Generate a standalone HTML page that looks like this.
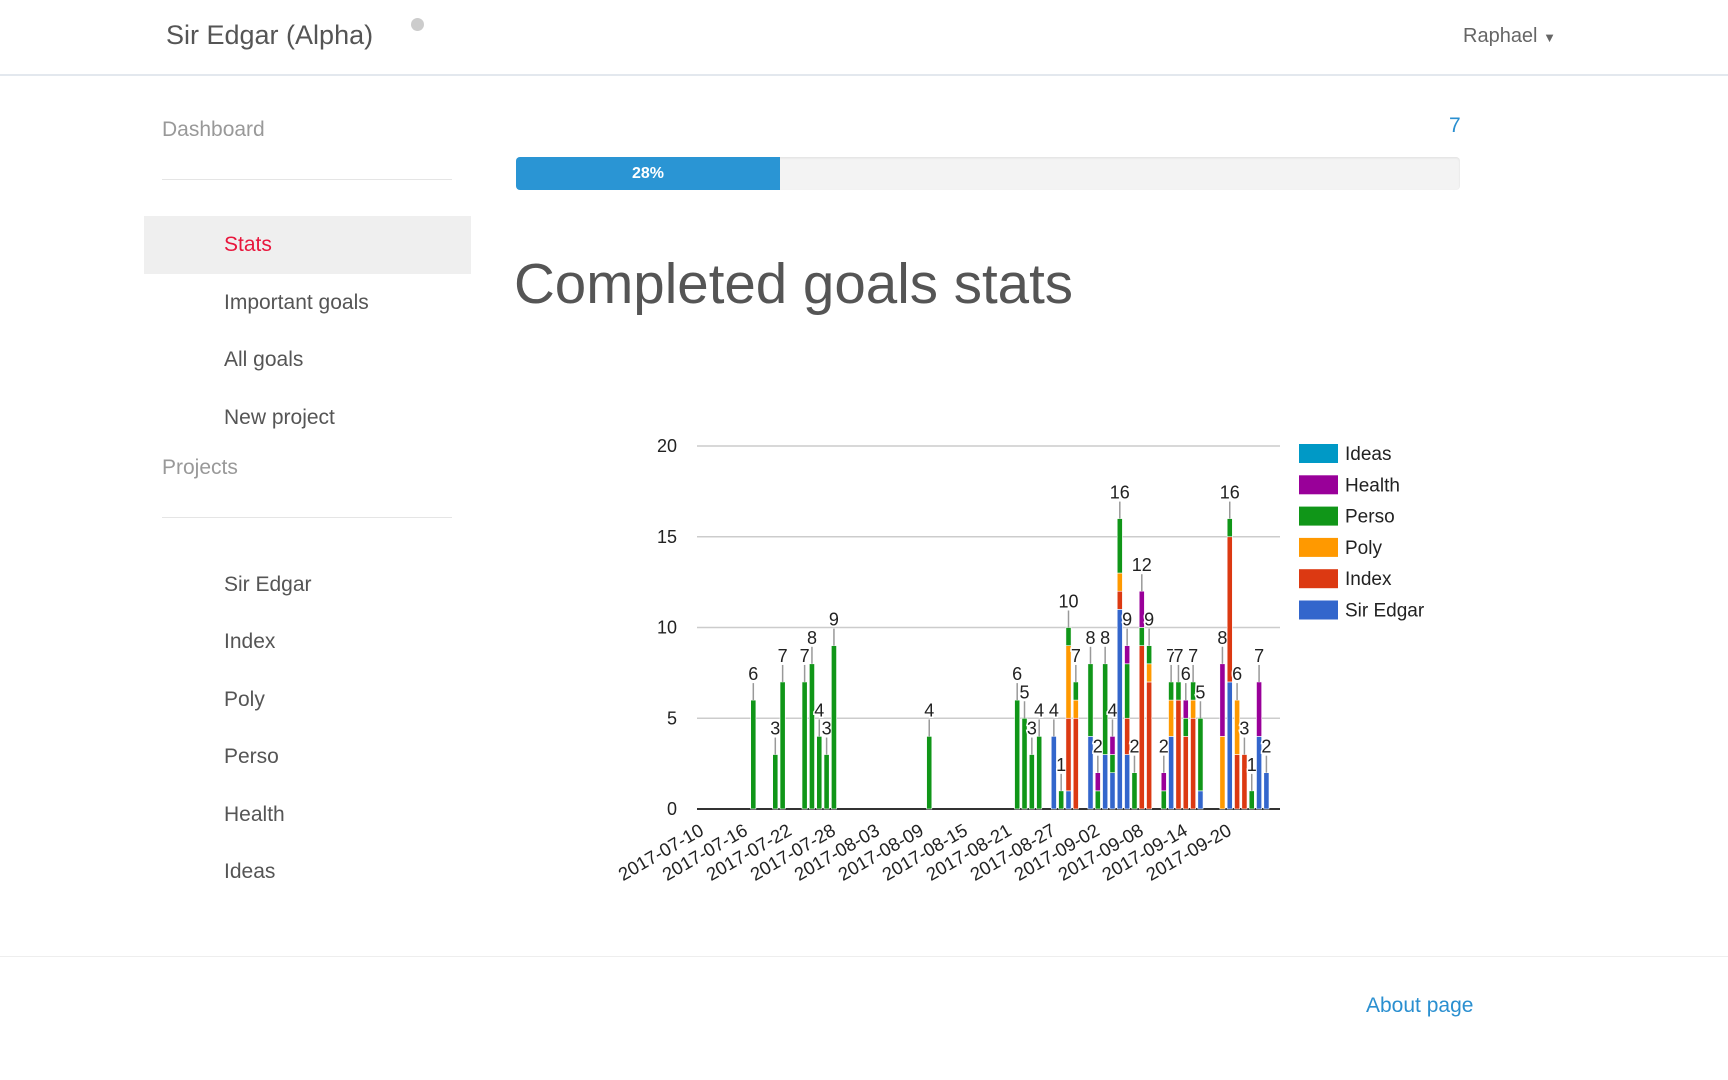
<!DOCTYPE html>
<html><head><meta charset="utf-8"><style>
body{margin:0;width:1728px;height:1080px;background:#fff;font-family:"Liberation Sans",sans-serif;position:relative;overflow:hidden}
.a{position:absolute;white-space:nowrap}
.nav{color:#555;font-size:21px}
</style></head><body>
<div class="a" style="left:0;top:0;width:1728px;height:74px;border-bottom:2px solid #e3e8ee"></div>
<div class="a" style="left:166px;top:20px;font-size:27px;color:#555">Sir Edgar (Alpha)</div>
<div class="a" style="left:411px;top:18px;width:13px;height:13px;border-radius:50%;background:#ccc"></div>
<div class="a" style="left:1463px;top:25px;font-size:20px;color:#666">Raphael <span style="font-size:13px">▼</span></div>

<div class="a" style="left:162px;top:118px;font-size:21px;color:#999">Dashboard</div>
<div class="a" style="left:162px;top:179px;width:290px;height:1px;background:#e5e5e5"></div>
<div class="a" style="left:144px;top:216px;width:327px;height:58px;background:#efefef"></div>
<div class="a nav" style="left:224px;top:233px;color:#e8163c">Stats</div>
<div class="a nav" style="left:224px;top:291px">Important goals</div>
<div class="a nav" style="left:224px;top:348px">All goals</div>
<div class="a nav" style="left:224px;top:406px">New project</div>
<div class="a" style="left:162px;top:456px;font-size:21px;color:#999">Projects</div>
<div class="a" style="left:162px;top:517px;width:290px;height:1px;background:#e5e5e5"></div>
<div class="a nav" style="left:224px;top:573px">Sir Edgar</div>
<div class="a nav" style="left:224px;top:630px">Index</div>
<div class="a nav" style="left:224px;top:688px">Poly</div>
<div class="a nav" style="left:224px;top:745px">Perso</div>
<div class="a nav" style="left:224px;top:803px">Health</div>
<div class="a nav" style="left:224px;top:860px">Ideas</div>

<div class="a" style="left:1449px;top:114px;font-size:21px;color:#2a8fd0">7</div>
<div class="a" style="left:516px;top:157px;width:944px;height:33px;background:#f3f3f3;border-radius:4px;overflow:hidden;box-shadow:inset 0 1px 2px rgba(0,0,0,.08)">
<div style="width:264px;height:33px;background:#2a95d4;color:#fff;font-size:16px;text-align:center;line-height:33px;font-weight:bold">28%</div></div>
<div class="a" style="left:514px;top:251px;font-size:56.5px;color:#555">Completed goals stats</div>

<svg class="a" style="left:0;top:0" width="1728" height="1080" id="chart"></svg>

<div class="a" style="left:0;top:956px;width:1728px;height:1px;background:#eee"></div>
<div class="a" style="left:1366px;top:994px;font-size:21px;color:#2a8fd0">About page</div>

<script>
const seriesNames=["Sir Edgar","Index","Poly","Perso","Health","Ideas"];
const seriesColors=["#3366cc","#dc3912","#ff9900","#109618","#990099","#0099c6"];
const yTicks=[0,5,10,15,20];
const dateLabels=["2017-07-10","2017-07-16","2017-07-22","2017-07-28","2017-08-03","2017-08-09","2017-08-15","2017-08-21","2017-08-27","2017-09-02","2017-09-08","2017-09-14","2017-09-20"];
const dayIndex=[7,10,11,14,15,16,17,18,31,43,44,45,46,48,49,50,51,53,54,55,56,57,58,59,60,61,63,64,65,66,67,68,71,72,73,74,75,76,77];
const sirEdgar=[0,0,0,0,0,0,0,0,0,0,0,0,0,4,0,1,0,4,0,3,2,11,3,0,0,0,0,4,0,0,0,1,0,7,0,0,0,4,2];
const indexS=  [0,0,0,0,0,0,0,0,0,0,0,0,0,0,0,4,5,0,0,0,0,1,2,0,9,7,0,0,6,4,5,0,0,8,3,3,0,0,0];
const poly=    [0,0,0,0,0,0,0,0,0,0,0,0,0,0,0,4,1,0,0,0,0,1,0,0,0,1,0,2,0,0,1,0,4,0,3,0,0,0,0];
const perso=   [6,3,7,7,8,4,3,9,4,6,5,3,4,0,1,1,1,4,1,5,1,3,3,2,1,1,1,1,1,1,1,4,0,1,0,0,1,0,0];
const health=  [0,0,0,0,0,0,0,0,0,0,0,0,0,0,0,0,0,0,1,0,1,0,1,0,2,0,1,0,0,1,0,0,4,0,0,0,0,3,0];
const ideas=   [0,0,0,0,0,0,0,0,0,0,0,0,0,0,0,0,0,0,0,0,0,0,0,0,0,0,0,0,0,0,0,0,0,0,0,0,0,0,0];
const series=[sirEdgar,indexS,poly,perso,health,ideas];
const NS="http://www.w3.org/2000/svg";
const svg=document.getElementById('chart');
const X0=697,X1=1280,Y0=809,Y20=446;
function y(v){return Y0-(Y0-Y20)*v/20;}
function x(i){return 702+i*7.33;}
function lx(k){return x(k*6)+3;}
function mk(t,a){const e=document.createElementNS(NS,t);for(const k in a)e.setAttribute(k,a[k]);svg.appendChild(e);return e;}
yTicks.forEach(t=>{
  const g=mk('line',{x1:X0,x2:X1,y1:y(t),y2:y(t),stroke:t===0?'#333':'#ccc','stroke-width':t===0?2:1.5});
  
  
  const l=mk('text',{x:677,y:y(t)+6,'text-anchor':'end','font-size':18,fill:'#222'});
  l.textContent=t;
  
  
});
dateLabels.forEach((d,k)=>{
  const t=mk('text',{x:lx(k),y:834,'text-anchor':'end','font-size':18.5,fill:'#222',transform:`rotate(-30 ${lx(k)} 834)`});
  t.textContent=d;
  
  
});
dayIndex.forEach((di,j)=>{
  let acc=0;const cx=x(di);
  series.forEach((s,si)=>{
    const v=s[j];if(!v)return;
    const r=mk('rect',{x:cx-2.6,y:y(acc+v),width:5.2,height:y(acc)-y(acc+v),fill:seriesColors[si],stroke:'#fff','stroke-width':0.6});
    
    
    acc+=v;
  });
  const top=y(acc);
  const st=mk('line',{x1:cx,x2:cx,y1:top,y2:top-17,stroke:'#999','stroke-width':1.5});
  
  
  const t=mk('text',{x:cx,y:top-20,'text-anchor':'middle','font-size':18,fill:'#222',stroke:'#fff','stroke-width':3,'paint-order':'stroke'});
  t.textContent=acc;
  
  
});
[5,4,3,2,1,0].forEach((si,r)=>{
  const yy=444+r*31.3;
  const b=mk('rect',{x:1299,y:yy,width:39,height:19,fill:seriesColors[si]});
  
  
  const t=mk('text',{x:1345,y:yy+16,'font-size':19,fill:'#222'});
  t.textContent=seriesNames[si];
  
  
});
</script>
</body></html>
